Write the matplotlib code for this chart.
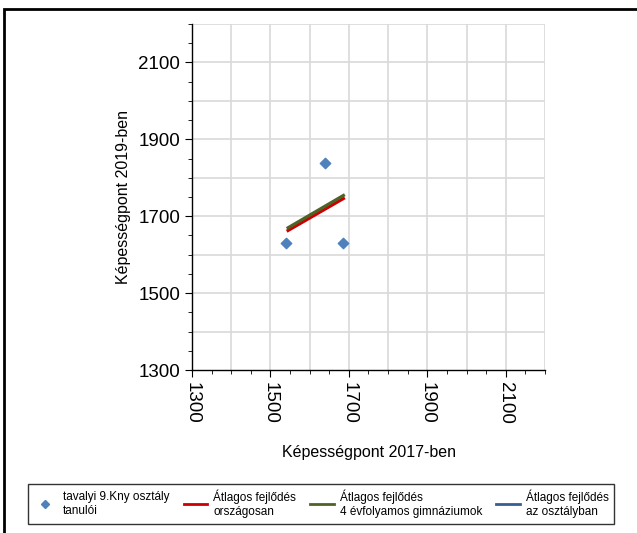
import matplotlib.pyplot as plt
from matplotlib.lines import Line2D
from matplotlib.patches import Rectangle
from matplotlib.ticker import MultipleLocator

plt.rcParams['font.family'] = ['Liberation Sans', 'DejaVu Sans']

# tanulok pontjai (2017 -> 2019)
students_2017 = [1540, 1640, 1686]
students_2019 = [1631, 1838, 1631]

# atlagos fejlodes vonalak
trend_x = [1545, 1686]
national_y = [1663, 1746]
gimn_y = [1670, 1754]

fig = plt.figure(figsize=(6.37, 5.33), dpi=100)
ax = fig.add_axes([192 / 637, 1 - 370 / 533, 353 / 637, 346 / 533])

ax.plot(trend_x, national_y, color='#cc0000', lw=2.3, zorder=3)
ax.plot(trend_x, gimn_y, color='#4f6228', lw=2.3, zorder=3)
ax.scatter(students_2017, students_2019, marker='D', s=28, color='#4f81bd', zorder=4)

ax.xaxis.set_minor_locator(MultipleLocator(50))
ax.yaxis.set_minor_locator(MultipleLocator(50))
ax.set_xticks(range(1300, 2201, 200))
ax.set_yticks(range(1300, 2201, 200))
ax.set_xlim(1300, 2200)
ax.set_ylim(1300, 2200)

for v in range(1400, 2201, 100):
    ax.axvline(v, color='#d9d9d9', lw=1.2, zorder=0)
    ax.axhline(v, color='#d9d9d9', lw=1.2, zorder=0)

ax.spines['top'].set_visible(False)
ax.spines['right'].set_visible(False)
ax.spines['left'].set_linewidth(1.0)
ax.spines['bottom'].set_linewidth(1.0)
ax.tick_params(which='major', length=5, labelsize=13.5)
ax.tick_params(which='minor', length=3)
plt.setp(ax.get_xticklabels(), rotation=-90)

ax.set_xlabel('Képességpont 2017-ben', fontsize=11.5, labelpad=15)
ax.set_ylabel('Képességpont 2019-ben', fontsize=11.5, labelpad=5)

handles = [
    Line2D([], [], marker='D', ls='none', color='#4f81bd', markersize=4.5),
    Line2D([], [], color='#cc0000', lw=2),
    Line2D([], [], color='#4f6228', lw=2),
    Line2D([], [], color='#365f91', lw=2),
]
labels = [
    'tavalyi 9.Kny osztály\ntanulói',
    'Átlagos fejlődés\nországosan',
    'Átlagos fejlődés\n4 évfolyamos gimnáziumok',
    'Átlagos fejlődés\naz osztályban',
]
leg = fig.legend(handles, labels, loc='center', ncol=4,
                 bbox_to_anchor=(321 / 637, 1 - 504 / 533), fontsize=8.5,
                 frameon=True, fancybox=False, edgecolor='black',
                 handlelength=2.0, columnspacing=1.2, handletextpad=0.5,
                 borderpad=0.5)
leg.get_frame().set_linewidth(1.0)

fig.patches.append(Rectangle((4 / 637, -0.05), 1.1, 1 - 9 / 533 + 0.05,
                             transform=fig.transFigure, fill=False,
                             edgecolor='black', lw=2))

fig.savefig('out.png', dpi=100)
